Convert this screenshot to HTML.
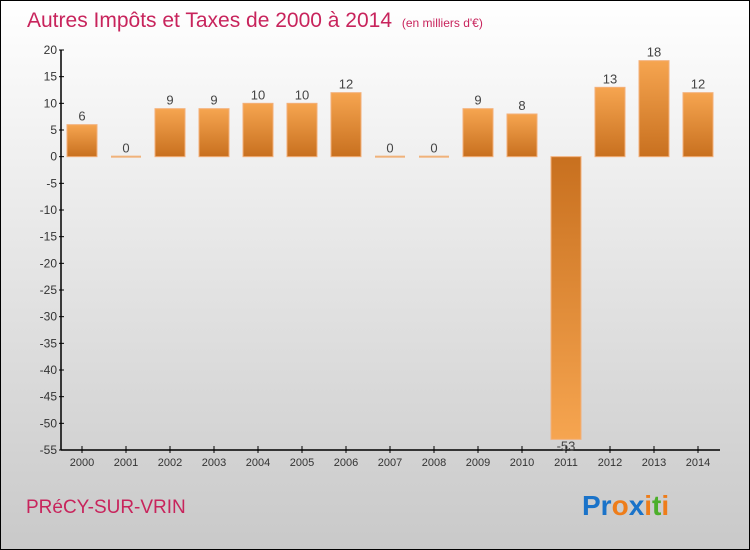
<!DOCTYPE html>
<html><head><meta charset="utf-8"><style>
body{margin:0}
svg{display:block;font-family:"Liberation Sans",sans-serif}
</style></head><body>
<svg id="c" width="750" height="550">
<defs>
<linearGradient id="bg" x1="0" y1="0" x2="0" y2="1"><stop offset="0" stop-color="#ffffff"/><stop offset="1" stop-color="#c9c9c9"/></linearGradient>
<linearGradient id="gp" x1="0" y1="0" x2="0" y2="1"><stop offset="0" stop-color="#f6a550"/><stop offset="1" stop-color="#c8701f"/></linearGradient>
<linearGradient id="gn" x1="0" y1="0" x2="0" y2="1"><stop offset="0" stop-color="#c8701f"/><stop offset="1" stop-color="#f6a550"/></linearGradient>
</defs>
<rect x="0.5" y="0.5" width="749" height="549" fill="url(#bg)" stroke="#000"/>
<text x="27" y="27" font-size="21" fill="#c8245c">Autres Impôts et Taxes de 2000 à 2014 <tspan font-size="12" dx="4">(en milliers d'€)</tspan></text>
<g id="plot"></g>
<text x="26" y="513" font-size="19" fill="#c8245c">PRéCY-SUR-VRIN</text>
<text x="582" y="515" font-size="28" font-weight="bold"><tspan fill="#1a73c9">Pr</tspan><tspan fill="#ee7d1a">o</tspan><tspan fill="#1a73c9">x</tspan><tspan fill="#ee7d1a">i</tspan><tspan fill="#4caf2a">t</tspan><tspan fill="#ee7d1a">i</tspan></text>
</svg>
<script>
const categories=["2000","2001","2002","2003","2004","2005","2006","2007","2008","2009","2010","2011","2012","2013","2014"];
const values=[6,0,9,9,10,10,12,0,0,9,8,-53,13,18,12];
const yTicks=[20,15,10,5,0,-5,-10,-15,-20,-25,-30,-35,-40,-45,-50,-55];
const NS="http://www.w3.org/2000/svg";
const g=document.getElementById('plot');
const yMin=-55,yMax=20,plotTop=50,plotBot=450,axX=61,plotRight=720;
const y=v=>plotTop+(yMax-v)/(yMax-yMin)*(plotBot-plotTop);
const x=i=>82+i*44;
function mk(t,a){const e=document.createElementNS(NS,t);for(const k in a)e.setAttribute(k,a[k]);g.appendChild(e);return e;}
let e;
e=mk('line',{x1:axX,y1:plotTop,x2:axX,y2:plotBot,stroke:'#000','stroke-width':1.5});


e=mk('line',{x1:axX,y1:plotBot,x2:plotRight,y2:plotBot,stroke:'#000','stroke-width':1.5});


yTicks.forEach(t=>{
 e=mk('line',{x1:axX-2,y1:y(t),x2:axX+3,y2:y(t),stroke:'#000'});
 
 
 e=mk('text',{x:axX-4,y:y(t)+4,'font-size':12,'text-anchor':'end',fill:'#333'});
 e.textContent=t;
 
 
});
categories.forEach((c,i)=>{
 e=mk('line',{x1:x(i),y1:plotBot-4,x2:x(i),y2:plotBot+3,stroke:'#000'});
 
 
 e=mk('text',{x:x(i),y:plotBot+16,'font-size':11,'text-anchor':'middle',fill:'#333'});
 e.textContent=c;
 
 
 const v=values[i];
 if(v===0){
  e=mk('rect',{x:x(i)-15,y:y(0)-1,width:30,height:2,fill:'#f0b27a'});
 }else{
  const y0=Math.min(y(v),y(0)),h=Math.abs(y(v)-y(0));
  e=mk('rect',{x:x(i)-15,y:y0,width:30,height:h,fill:v>0?'url(#gp)':'url(#gn)',stroke:'#f3b07a','stroke-width':1});
 }
 
 
 e=mk('text',{x:x(i),y:v>=0?y(v)-4:y(v)+11,'font-size':13,'text-anchor':'middle',fill:'#444'});
 e.textContent=v;
 
 
});
</script>
</body></html>
